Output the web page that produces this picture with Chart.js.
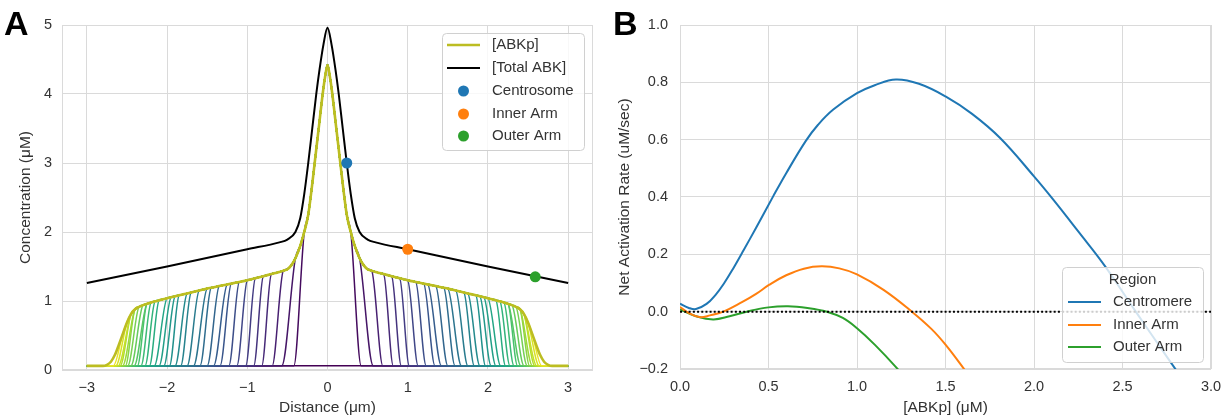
<!DOCTYPE html>
<html>
<head>
<meta charset="utf-8">
<script src="https://cdn.jsdelivr.net/npm/chart.js@4.4.1/dist/chart.umd.min.js"></script>
<style>
  html, body { margin: 0; padding: 0; background: #fff; }
  #wrap { position: relative; width: 1231px; height: 419px; overflow: hidden; font-family: "Liberation Sans", Arial, sans-serif; }
  #cA { position: absolute; left: 0; top: 0; }
  #cB { position: absolute; left: 600px; top: 0; }
  .letter { position: absolute; top: 6px; font-weight: bold; font-size: 34px; line-height: 1; color: #000; }
</style>
</head>
<body>
<div id="wrap">
  <canvas id="cA" width="600" height="419"></canvas>
  <canvas id="cB" width="631" height="419"></canvas>
  <div class="letter" style="left:4px">A</div>
  <div class="letter" style="left:613px">B</div>
</div>
<script>
/* Panel A: ABK concentration profiles along the chromosome; panel B: net activation rate curves. */

// ---- panel A data (right half of a symmetric profile, mirrored about 0) ----
const xTicksA = [-3, -2, -1, 0, 1, 2, 3];
const yTicksA = [0, 1, 2, 3, 4, 5];

// final [ABKp] profile
const abkpDist = [0, 0.03, 0.06, 0.11, 0.16, 0.2, 0.24, 0.29, 0.34, 0.4, 0.45,
  0.5, 0.55, 0.6, 0.65, 0.7, 0.75, 0.8, 0.85, 0.9, 0.95,
  1.0, 1.05, 1.1, 1.15, 1.2, 1.25, 1.3, 1.35, 1.4, 1.45,
  1.5, 1.55, 1.6, 1.65, 1.7, 1.75, 1.8, 1.85, 1.9, 1.95,
  2.0, 2.05, 2.1, 2.15, 2.2, 2.25, 2.3, 2.35, 2.4, 2.45,
  2.5, 2.55, 2.6, 2.65, 2.7, 2.75, 2.8, 3.0];
const abkpConc = [4.42, 4.25, 4.0, 3.5, 3.0, 2.6, 2.25, 2.0, 1.8, 1.62, 1.52,
  1.46, 1.44, 1.42, 1.405, 1.39, 1.375, 1.36, 1.345, 1.33, 1.315,
  1.30, 1.288, 1.276, 1.264, 1.252, 1.24, 1.228, 1.216, 1.204, 1.192,
  1.18, 1.166, 1.152, 1.138, 1.124, 1.11, 1.096, 1.082, 1.068, 1.054,
  1.04, 1.025, 1.01, 0.995, 0.978, 0.96, 0.94, 0.915, 0.88, 0.81,
  0.69, 0.53, 0.37, 0.22, 0.12, 0.075, 0.06, 0.06];

// [Total ABK]
const totalDist = [0, 0.05, 0.1, 0.14, 0.19, 0.24, 0.29, 0.34, 0.4, 0.5, 0.6, 1.0, 2.0, 3.0];
const totalConc = [4.96, 4.72, 4.35, 4.0, 3.5, 3.0, 2.55, 2.2, 2.0, 1.89, 1.85, 1.75, 1.5, 1.26];

// positions where the earlier time points reach the baseline
const frontDist = [0.42, 0.57, 0.69, 0.82, 0.92, 1.02, 1.13, 1.23, 1.34, 1.42, 1.5,
  1.59, 1.67, 1.75, 1.83, 1.9, 1.97, 2.04, 2.1, 2.16, 2.22, 2.275, 2.325, 2.37,
  2.41, 2.45, 2.49, 2.52, 2.555, 2.585, 2.61, 2.64, 2.67];
const baseConc = 0.06;

const siteNames = ["Centrosome", "Inner Arm", "Outer Arm"];
const siteDist = [0.24, 1.0, 2.59];
const siteConc = [3.0, 1.75, 1.35];

// ---- panel B data ----
const xTicksB = [0, 0.5, 1, 1.5, 2, 2.5, 3];
const yTicksB = [-0.2, 0, 0.2, 0.4, 0.6, 0.8, 1.0];
const regionNames = ["Centromere", "Inner Arm", "Outer Arm"];

const centroAbkp = [0, 0.05, 0.09, 0.15, 0.2, 0.25, 0.3, 0.36, 0.43, 0.527, 0.6, 0.71, 0.78, 0.866,
  1.0, 1.1, 1.22, 1.35, 1.5, 1.65, 1.81, 2.0, 2.11, 2.25, 2.4, 2.575, 2.7, 2.81, 2.9];
const centroRate = [0.028, 0.013, 0.009, 0.027, 0.058, 0.1, 0.15, 0.215, 0.293, 0.403, 0.483, 0.595, 0.652, 0.705,
  0.762, 0.79, 0.81, 0.795, 0.751, 0.69, 0.605, 0.472, 0.39, 0.28, 0.16, 0.0, -0.112, -0.21, -0.29];
const innerAbkp = [0, 0.05, 0.11, 0.17, 0.245, 0.35, 0.43, 0.505, 0.6, 0.7, 0.8, 0.9, 1.0, 1.15, 1.31, 1.42, 1.5, 1.6, 1.65];
const innerRate = [0.016, -0.005, -0.019, -0.013, 0.0, 0.033, 0.062, 0.094, 0.127, 0.15, 0.158, 0.151, 0.13, 0.076, 0.0, -0.06, -0.115, -0.196, -0.24];
const outerAbkp = [0, 0.1, 0.19, 0.28, 0.377, 0.5, 0.61, 0.72, 0.83, 0.92, 1.0, 1.1, 1.224, 1.26];
const outerRate = [0.008, -0.018, -0.027, -0.016, 0.0, 0.015, 0.019, 0.013, 0.0, -0.022, -0.058, -0.115, -0.196, -0.225];
const zeroAbkp = [0, 3];
const zeroRate = [0, 0];

// ---- styling ----
const FONT = '"Liberation Sans", Arial, sans-serif';
const TXT = "#333333";
const GRID = "#dadada";
const TAB = { blue: "#1f77b4", orange: "#ff7f0e", green: "#2ca02c", olive: "#bcbd22" };
const VIRIDIS = ["#440154", "#482475", "#414487", "#355f8d", "#2a788e", "#21918c",
                 "#22a884", "#44bf70", "#7ad151", "#bddf26", "#fde725"];

function viridis(t) {
  const p = Math.min(Math.max(t, 0), 1) * (VIRIDIS.length - 1);
  const i = Math.min(Math.floor(p), VIRIDIS.length - 2), f = p - i;
  const a = VIRIDIS[i], b = VIRIDIS[i + 1];
  const ch = (h, k) => parseInt(h.slice(1 + 2 * k, 3 + 2 * k), 16);
  const mix = (k) => Math.round(ch(a, k) + (ch(b, k) - ch(a, k)) * f);
  return `rgb(${mix(0)},${mix(1)},${mix(2)})`;
}

const pts = (xs, ys) => xs.map((x, i) => ({ x, y: ys[i] }));
const mirror = (half) =>
  half.filter((p) => p.x > 0).map((p) => ({ x: -p.x, y: p.y })).reverse().concat(half);
const minus = (s) => s.replace("-", "\u2212");

// an earlier time point: the final profile up to just inside its front, then the baseline
function frontCurve(foot) {
  const inner = pts(abkpDist, abkpConc).filter((p) => p.x <= foot - 0.12);
  return mirror(inner.concat([{ x: foot, y: baseConc }, { x: 3, y: baseConc }]));
}

// ---- plugins ----
const frame = {
  id: "frame",
  beforeDatasetsDraw(chart) {
    const { ctx, chartArea: a } = chart;
    ctx.save();
    ctx.strokeStyle = GRID;
    ctx.lineWidth = 1;
    ctx.strokeRect(a.left + 0.5, a.top + 0.5, a.right - a.left - 1, a.bottom - a.top - 1);
    ctx.restore();
  },
};

function boxLegend(o) {
  return {
    id: "boxLegend",
    afterDatasetsDraw(chart) {
      const ctx = chart.ctx;
      ctx.save();
      ctx.beginPath();
      ctx.roundRect(o.x + 0.5, o.y + 0.5, o.w, o.h, 4);
      ctx.fillStyle = "rgba(255,255,255,0.8)";
      ctx.fill();
      ctx.strokeStyle = "#d0d0d0";
      ctx.lineWidth = 1;
      ctx.stroke();
      ctx.font = `15px ${FONT}`;
      ctx.textBaseline = "middle";
      if (o.title) {
        ctx.fillStyle = TXT;
        ctx.textAlign = "center";
        ctx.fillText(o.title, o.x + o.w / 2, o.titleY);
      }
      ctx.textAlign = "left";
      o.rows.forEach((r, i) => {
        const y = o.rowY[i];
        if (r.dot) {
          ctx.beginPath();
          ctx.arc((o.lineX0 + o.lineX1) / 2, y, 5.5, 0, Math.PI * 2);
          ctx.fillStyle = r.color;
          ctx.fill();
        } else {
          ctx.beginPath();
          ctx.moveTo(o.lineX0, y);
          ctx.lineTo(o.lineX1, y);
          ctx.strokeStyle = r.color;
          ctx.lineWidth = r.width || 2;
          ctx.stroke();
        }
        ctx.fillStyle = TXT;
        ctx.fillText(r.label, o.textX, y);
      });
      ctx.restore();
    },
  };
}

function axis(opts) {
  return {
    type: "linear",
    min: opts.min,
    max: opts.max,
    afterBuildTicks: (s) => { s.ticks = opts.ticks.map((v) => ({ value: v })); },
    afterFit: opts.fit,
    grid: { color: GRID, lineWidth: 1, drawTicks: false },
    border: { display: false },
    ticks: {
      padding: opts.pad,
      color: TXT,
      font: { family: FONT, size: 14.5 },
      callback: opts.fmt,
    },
    title: {
      display: true,
      text: opts.title,
      color: TXT,
      font: { family: FONT, size: 15.5 },
      padding: opts.titlePad,
    },
  };
}

Chart.defaults.font.family = FONT;

// ---- panel A ----
const dsA = [];
siteNames.forEach((name, i) => {
  dsA.push({
    label: name,
    data: [{ x: siteDist[i], y: siteConc[i] }],
    showLine: false,
    pointRadius: 5.5,
    pointBorderWidth: 0,
    pointBackgroundColor: [TAB.blue, TAB.orange, TAB.green][i],
    order: 0,
  });
});
dsA.push({ label: "[Total ABK]", data: mirror(pts(totalDist, totalConc)), borderColor: "#000", borderWidth: 2, order: 1 });
dsA.push({ label: "[ABKp]", data: mirror(pts(abkpDist, abkpConc)), borderColor: TAB.olive, borderWidth: 2.6, order: 2 });
frontDist.forEach((foot, i) => {
  dsA.push({ data: frontCurve(foot), borderColor: viridis((i + 1) / (frontDist.length + 1)), borderWidth: 1.5, order: 200 - i });
});
dsA.push({ data: [{ x: -3, y: baseConc }, { x: 3, y: baseConc }], borderColor: viridis(0), borderWidth: 1.5, order: 300 });

new Chart(document.getElementById("cA"), {
  type: "line",
  data: { datasets: dsA },
  options: {
    responsive: false,
    animation: false,
    events: [],
    layout: { padding: { top: 25, right: 7, left: 0, bottom: 0 } },
    elements: { point: { radius: 0 }, line: { cubicInterpolationMode: "monotone" } },
    plugins: { legend: { display: false }, tooltip: { enabled: false } },
    scales: {
      x: axis({ min: -3.31, max: 3.31, ticks: xTicksA, fit: (s) => { s.height = 49; }, pad: 9,
        fmt: (v) => minus(String(v)), title: "Distance (μm)", titlePad: { top: 0, bottom: 2 } }),
      y: axis({ min: 0, max: 5, ticks: yTicksA, fit: (s) => { s.width = 62; }, pad: 10,
        fmt: (v) => String(v), title: "Concentration (μM)", titlePad: { top: 16, bottom: 0 } }),
    },
  },
  plugins: [frame, boxLegend({
    x: 442, y: 33, w: 142, h: 117,
    rowY: [45, 68, 91, 114, 136], lineX0: 447, lineX1: 480, textX: 492,
    rows: [
      { label: "[ABKp]", color: TAB.olive, width: 2.6 },
      { label: "[Total ABK]", color: "#000", width: 2 },
      { label: siteNames[0], color: TAB.blue, dot: true },
      { label: siteNames[1], color: TAB.orange, dot: true },
      { label: siteNames[2], color: TAB.green, dot: true },
    ],
  })],
});

// ---- panel B ----
new Chart(document.getElementById("cB"), {
  type: "line",
  data: {
    datasets: [
      { data: pts(zeroAbkp, zeroRate), borderColor: "#000", borderWidth: 2, borderDash: [2, 2.2], order: 0 },
      { label: regionNames[0], data: pts(centroAbkp, centroRate), borderColor: TAB.blue, borderWidth: 2, order: 1 },
      { label: regionNames[1], data: pts(innerAbkp, innerRate), borderColor: TAB.orange, borderWidth: 2, order: 2 },
      { label: regionNames[2], data: pts(outerAbkp, outerRate), borderColor: TAB.green, borderWidth: 2, order: 3 },
    ],
  },
  options: {
    responsive: false,
    animation: false,
    events: [],
    layout: { padding: { top: 25, right: 20, left: 0, bottom: 0 } },
    elements: { point: { radius: 0 }, line: { tension: 0.4 } },
    plugins: { legend: { display: false }, tooltip: { enabled: false } },
    scales: {
      x: axis({ min: 0, max: 3, ticks: xTicksB, fit: (s) => { s.height = 50; }, pad: 9,
        fmt: (v) => v.toFixed(1), title: "[ABKp] (μM)", titlePad: { top: 0, bottom: 2 } }),
      y: axis({ min: -0.2, max: 1.0, ticks: yTicksB, fit: (s) => { s.width = 80; }, pad: 12,
        fmt: (v) => minus(v.toFixed(1)), title: "Net Activation Rate (uM/sec)", titlePad: { top: 15, bottom: 0 } }),
    },
  },
  plugins: [frame, boxLegend({
    x: 462, y: 267, w: 141, h: 95, title: "Region", titleY: 280,
    rowY: [302, 325, 347], lineX0: 468, lineX1: 501, textX: 513,
    rows: regionNames.map((label, i) => ({ label, color: [TAB.blue, TAB.orange, TAB.green][i], width: 2 })),
  })],
});
</script>
</body>
</html>
